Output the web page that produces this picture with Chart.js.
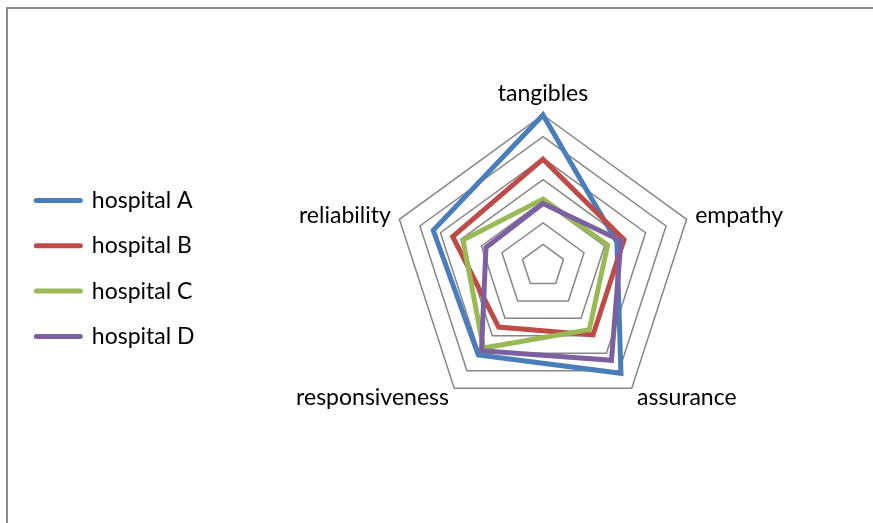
<!DOCTYPE html>
<html>
<head>
<meta charset="utf-8">
<script src="https://cdn.jsdelivr.net/npm/chart.js@4.4.1/dist/chart.umd.min.js"></script>
<style>
  body { margin: 0; background: #fff; overflow: hidden; }
  #frame { position: absolute; left: 6px; top: 7px; width: 900px; height: 600px; border: 2px solid #8a8a8a; }
  #my-radar { position: absolute; left: 0; top: 0; }
</style>
</head>
<body>
<div id="frame"></div>
<canvas id="my-radar" width="873" height="523"></canvas>
<script>
const categories = ['tangibles', 'empathy', 'assurance', 'responsiveness', 'reliability'];
const seriesNames = ['hospital A', 'hospital B', 'hospital C', 'hospital D'];
const hospitalA = [7.0, 3.6, 6.15, 5.1, 5.35];
const hospitalB = [4.95, 3.95, 3.95, 3.5, 4.4];
const hospitalC = [3.1, 3.15, 3.65, 4.7, 3.9];
const hospitalD = [2.9, 3.8, 5.4, 4.85, 2.78];
const colors = ['#4A7EBB', '#BE4B48', '#98B954', '#7D60A0'];

// excel puts side / bottom labels centred on the vertex, so squeeze their line height
const labelLineHeights = [1.2, '1px', '5px', '5px', '1px'];

const legendWidth = {
  id: 'legendWidth',
  beforeLayout(chart) {
    const lg = chart.legend;
    if (lg && !lg._patched) {
      const fit = lg.fit;
      lg.fit = function () {
        fit.call(this);
        this.width = 219;
      };
      lg._patched = true;
    }
  }
};

Chart.defaults.font.family = 'Lato';
Chart.defaults.color = '#000';

const ctx = document.querySelector('#my-radar').getContext('2d');
const chart = new Chart(ctx, {
  type: 'radar',
  data: {
    labels: categories,
    datasets: [hospitalA, hospitalB, hospitalC, hospitalD].map((values, i) => ({
      label: seriesNames[i],
      data: values,
      borderColor: colors[i],
      backgroundColor: colors[i],
      borderWidth: 5,
      pointRadius: 0,
      pointHoverRadius: 0,
      fill: false,
      order: 4 - i
    }))
  },
  options: {
    responsive: false,
    animation: false,
    devicePixelRatio: 1,
    layout: { padding: { left: 14, top: 63, right: 20, bottom: 88 } },
    scales: {
      r: {
        min: 0,
        max: 7,
        ticks: { stepSize: 1, display: false },
        angleLines: { display: false },
        grid: { color: '#868686', lineWidth: 1.5 },
        pointLabels: {
          color: '#000',
          padding: (c) => (c.index === 0 ? 7.4 : 9),
          font: (c) => ({ family: 'Lato', size: 23, lineHeight: labelLineHeights[c.index] })
        }
      }
    },
    plugins: {
      tooltip: { enabled: false },
      legend: {
        position: 'left',
        align: 'start',
        title: { display: true, text: ' ', padding: { top: 89.3, bottom: 0 } },
        labels: {
          usePointStyle: true,
          pointStyleWidth: 44,
          padding: 22.3,
          color: '#000',
          font: { family: 'Lato', size: 23 },
          generateLabels: (ch) => ch.data.datasets.map((ds, i) => ({
            text: ds.label,
            strokeStyle: ds.borderColor,
            fillStyle: ds.borderColor,
            lineWidth: 5,
            lineCap: 'round',
            pointStyle: 'line',
            hidden: false,
            datasetIndex: i
          }))
        }
      }
    }
  },
  plugins: [legendWidth]
});
</script>
</body>
</html>
